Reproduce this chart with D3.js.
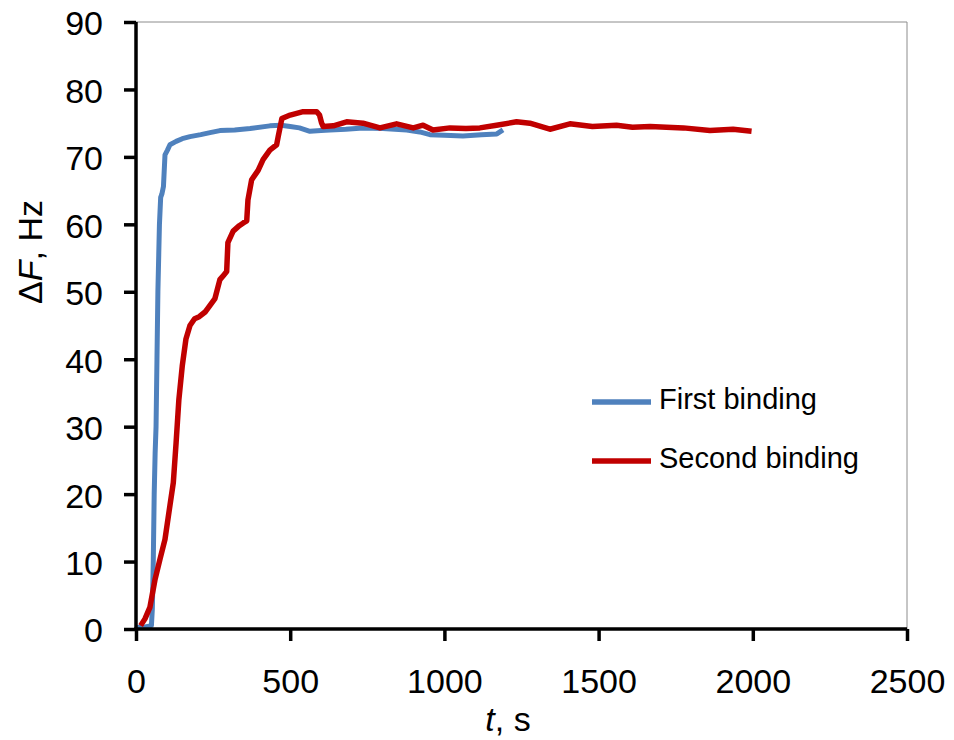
<!DOCTYPE html>
<html>
<head>
    <script src="https://cdnjs.cloudflare.com/ajax/libs/d3/7.8.5/d3.min.js"></script>
    <style>
        body, html {
            margin: 0;
            padding: 0;
            background: #fff;
            overflow: hidden;
        }
        svg {
            display: block;
            font-family: "Liberation Sans", Arial, sans-serif;
        }
        .tick-label {
            font-size: 34px;
            fill: #000;
        }
        .axis-title {
            font-size: 34px;
            fill: #000;
        }
        .legend-label {
            font-size: 29px;
            fill: #000;
        }
    </style>
</head>
<body>
    <svg></svg>
    <script>
        // tick labels
        const xTicks = [0, 500, 1000, 1500, 2000, 2500];
        const yTicks = [0, 10, 20, 30, 40, 50, 60, 70, 80, 90];

        // first binding (s, Hz)
        const blueT = [0, 30, 50, 53, 56, 59, 62, 65, 68, 71, 76, 80, 84, 89, 94, 102, 110, 130, 150,
            175, 210, 240, 272, 320, 370, 434, 470, 500, 530, 564, 600, 629, 680, 736, 800, 878,
            920, 953, 1000, 1060, 1120, 1170, 1190];
        const blueF = [0.2, 0.3, 0.5, 3, 10, 20, 26, 30, 40, 50, 60, 64, 64.5, 65.6, 70.3, 71.0, 71.8,
            72.3, 72.7, 73.0, 73.3, 73.6, 73.9, 74.0, 74.2, 74.6, 74.7, 74.5, 74.3, 73.8, 73.9, 74.0,
            74.1, 74.3, 74.2, 74.0, 73.7, 73.3, 73.2, 73.1, 73.3, 73.4, 74.0];

        // second binding (s, Hz)
        const redT = [15, 29, 45, 62, 78, 94, 110, 121, 130, 139, 150, 162, 175, 190, 205, 224, 240,
            256, 272, 285, 294, 298, 315, 335, 348, 359, 363, 375, 396, 412, 434, 456, 461, 473, 500,
            542, 586, 595, 602, 607, 640, 683, 736, 791, 845, 899, 931, 963, 1018, 1070, 1115, 1169,
            1234, 1277, 1342, 1407, 1480, 1558, 1610, 1667, 1720, 1775, 1861, 1936, 1996];
        const redF = [0.5, 1.5, 3.2, 7.4, 10.4, 13.3, 18.3, 21.7, 27.6, 34, 39, 43, 45, 46, 46.3, 47,
            48, 49, 51.8, 52.5, 53, 57.3, 59, 59.8, 60.2, 60.5, 63.6, 66.6, 68, 69.6, 71, 71.8, 73,
            75.7, 76.2, 76.7, 76.7, 76.2, 75, 74.5, 74.6, 75.2, 75, 74.3, 74.9, 74.3, 74.7, 74, 74.3,
            74.2, 74.3, 74.7, 75.2, 75, 74.1, 74.9, 74.5, 74.7, 74.4, 74.5, 74.4, 74.3, 73.9, 74.1, 73.8];

        const seriesNames = ["First binding", "Second binding"];
        const seriesColors = ["#4f81bd", "#c00000"];

        const width = 954, height = 740;
        const plotLeft = 136, plotRight = 907, plotTop = 22, plotBottom = 629;

        const svg = d3.select("svg")
            .attr("width", width)
            .attr("height", height);

        const x = d3.scaleLinear().domain([0, 2500]).range([plotLeft, plotRight]);
        const y = d3.scaleLinear().domain([0, 90]).range([plotBottom, plotTop]);

        // thin frame on top and right
        svg.append("path")
            .attr("d", `M${plotLeft},${plotTop}H${plotRight}V${plotBottom}`)
            .attr("fill", "none")
            .attr("stroke", "#8c8c8c")
            .attr("stroke-width", 1);

        // data lines
        const line = d3.line()
            .x(d => x(d[0]))
            .y(d => y(d[1]));

        const blue = blueT.map((t, i) => [t, blueF[i]]);
        const red = redT.map((t, i) => [t, redF[i]]);

        svg.append("path")
            .datum(blue)
            .attr("d", line)
            .attr("fill", "none")
            .attr("stroke", seriesColors[0])
            .attr("stroke-width", 5)
            .attr("stroke-linejoin", "round");

        svg.append("path")
            .datum(red)
            .attr("d", line)
            .attr("fill", "none")
            .attr("stroke", seriesColors[1])
            .attr("stroke-width", 5.5)
            .attr("stroke-linejoin", "round");

        // axes
        const xAxis = svg.append("g")
            .attr("transform", `translate(0,${plotBottom})`)
            .call(d3.axisBottom(x).tickValues(xTicks).tickSize(12).tickSizeOuter(0).tickFormat(d3.format("d")));
        const yAxis = svg.append("g")
            .attr("transform", `translate(${plotLeft},0)`)
            .call(d3.axisLeft(y).tickValues(yTicks).tickSize(12).tickSizeOuter(0));

        [xAxis, yAxis].forEach(g => {
            g.attr("font-family", null).attr("font-size", null);
            g.select(".domain").attr("stroke", "#000").attr("stroke-width", 3.5);
            g.selectAll(".tick line").attr("stroke", "#000").attr("stroke-width", 3.5);
            g.selectAll(".tick text").attr("class", "tick-label");
        });
        xAxis.select(".domain").attr("d", `M${plotLeft - 1.75},0H${plotRight}`);
        yAxis.select(".domain").attr("d", `M0,${plotTop}V${plotBottom + 1.75}`);

        xAxis.selectAll(".tick text").attr("y", 64).attr("dy", null);
        yAxis.selectAll(".tick text").attr("x", -33).attr("dy", "0.38em").attr("text-anchor", "end");

        // axis titles
        const xt = svg.append("text")
            .attr("class", "axis-title")
            .attr("x", 508)
            .attr("y", 731)
            .attr("text-anchor", "middle");
        xt.append("tspan").attr("font-style", "italic").text("t");
        xt.append("tspan").text(", s");

        const yt = svg.append("text")
            .attr("class", "axis-title")
            .attr("transform", "translate(42,252) rotate(-90)")
            .attr("text-anchor", "middle");
        yt.append("tspan").text("\u0394");
        yt.append("tspan").attr("font-style", "italic").text("F");
        yt.append("tspan").text(", Hz");

        // legend
        const legend = svg.append("g")
            .selectAll("g")
            .data(seriesNames)
            .join("g")
            .attr("transform", (d, i) => `translate(592,${402 + i * 59})`);

        legend.append("line")
            .attr("x1", 0).attr("x2", 59)
            .attr("stroke", (d, i) => seriesColors[i])
            .attr("stroke-width", 5.5);

        legend.append("text")
            .attr("class", "legend-label")
            .attr("x", 67)
            .attr("y", 7)
            .text(d => d);
    </script>
</body>
</html>
